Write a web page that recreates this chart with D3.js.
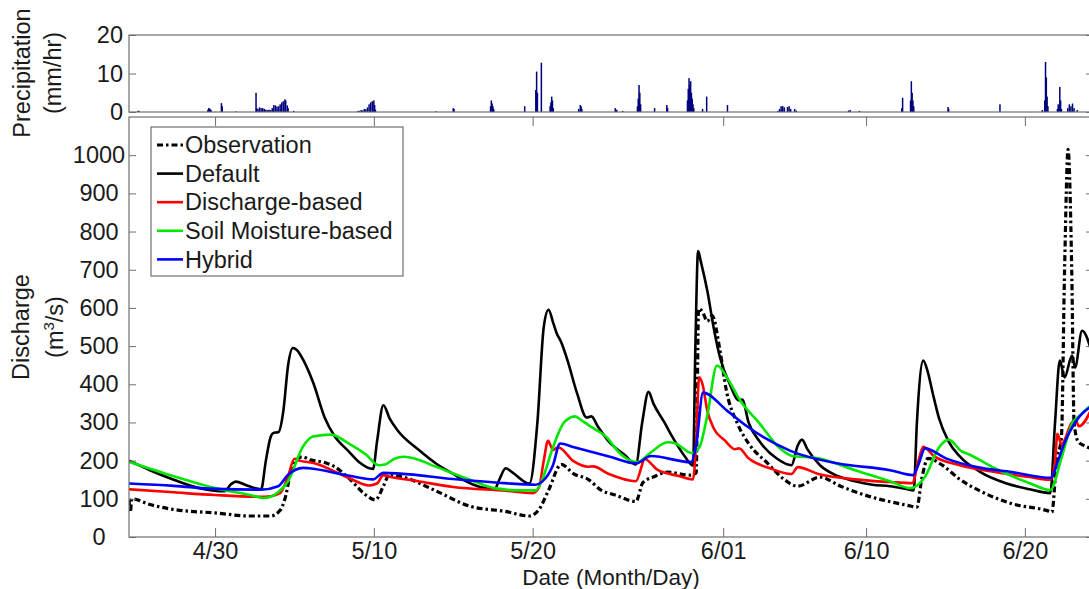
<!DOCTYPE html>
<html>
<head>
<meta charset="utf-8">
<script src="https://cdn.jsdelivr.net/npm/d3@7"></script>
<style>
  body { margin: 0; background: #fff; }
  svg { display: block; font-family: "Liberation Sans", Arial, Helvetica, sans-serif; }
</style>
</head>
<body>
<div id="chart"></div>
<script>
// day offsets are counted from 4/30 (negative = late April)
const observation = [[-5.42,98],[-5.33,65],[-5.25,100],[-4.1,85],[-2.6,72],[0,63],[2.2,55],[3.5,55],[4.1,70],[4.4,100],[4.85,185],[5.2,205],[5.5,210],[6.0,202],[6.9,195],[7.5,185],[8.4,155],[9.5,110],[10.1,97],[10.6,133],[11.0,165],[11.5,160],[12.0,155],[13.8,123],[16.1,80],[18.3,67],[19.8,55],[20.4,72],[21.0,122],[21.8,190],[22.6,165],[23.5,151],[24.3,123],[25.2,110],[26.5,93],[26.95,143],[27.6,157],[28.5,170],[29.9,162],[30.3,168],[30.45,598],[30.7,590],[31.0,565],[31.3,580],[31.8,488],[32.2,384],[32.9,297],[33.6,245],[34.8,193],[35.8,152],[36.7,133],[38.1,157],[39.4,133],[41.4,104],[43.6,83],[44.2,78],[44.5,151],[44.9,206],[45.8,188],[46.9,151],[48.2,120],[50.2,87],[52.4,69],[52.7,65],[53.0,200],[53.3,260],[53.5,700],[53.72,1015],[53.95,700],[54.1,300],[54.35,250],[54.7,240],[55.3,230]];

const defaultRun = [[-5.42,200],[-4.1,175],[-2.6,150],[-1,128],[0.6,120],[1.0,138],[1.3,145],[2.0,135],[2.9,125],[3.2,200],[3.5,262],[3.65,272],[4.0,275],[4.3,330],[4.6,450],[4.9,495],[5.15,490],[5.6,460],[6.2,402],[6.9,313],[7.5,266],[8.4,225],[9.1,195],[9.95,178],[10.2,250],[10.6,345],[11.0,310],[11.5,279],[12.8,229],[14.0,190],[15.0,165],[15.6,150],[16.75,130],[17.6,125],[17.9,150],[18.3,180],[18.7,170],[19.8,140],[20.3,300],[20.7,550],[21.0,595],[21.3,560],[21.5,535],[21.8,510],[22.2,462],[22.8,376],[23.4,313],[23.7,316],[24.1,290],[24.9,245],[25.8,215],[26.5,190],[26.9,300],[27.3,380],[27.6,350],[28.3,300],[28.8,262],[29.6,210],[30.1,187],[30.25,500],[30.42,749],[30.6,720],[31.0,645],[31.4,548],[31.8,470],[32.4,402],[33.0,358],[33.2,360],[33.6,300],[34.3,250],[35.4,205],[36.3,188],[36.7,240],[36.96,255],[37.3,230],[38.1,188],[39.2,160],[40.3,146],[41.4,137],[42.5,133],[43.6,125],[44.0,122],[44.2,300],[44.6,462],[44.9,430],[45.2,376],[45.6,310],[46.2,250],[46.9,211],[48.2,170],[49.8,141],[51.3,125],[52.6,115],[52.9,300],[53.2,462],[53.5,418],[53.97,475],[54.16,444],[54.6,540],[55.3,470]];

const dischargeBased = [[-5.42,125],[-2.6,117],[0,110],[3.1,105],[4.1,115],[4.6,160],[5.0,205],[5.3,200],[6.2,194],[8.4,155],[9.7,135],[10.2,140],[10.6,162],[11.0,158],[12.8,146],[15.0,131],[18.3,121],[20.0,115],[20.4,130],[20.7,200],[20.97,252],[21.28,228],[21.6,235],[22.6,198],[23.5,184],[23.8,185],[24.8,165],[26.5,146],[26.9,190],[27.02,205],[27.9,175],[29.2,160],[30.1,151],[30.3,250],[30.48,418],[30.7,400],[31.0,331],[31.4,285],[32.1,253],[32.75,230],[33.0,232],[33.6,206],[34.95,180],[36.3,165],[36.7,183],[38.0,165],[40.3,151],[42.5,144],[43.9,141],[44.3,200],[44.6,236],[45.3,211],[46.9,188],[49.1,170],[51.3,157],[52.6,150],[52.9,200],[53.05,270],[53.3,243],[53.97,300],[54.2,305],[54.4,290],[55.3,345]];

const soilMoistureBased = [[-5.42,197],[-2.6,159],[0,128],[2.2,110],[3.1,102],[3.97,117],[4.6,146],[5.54,237],[6.17,263],[7.3,268],[8.38,246],[9.5,216],[10.3,188],[10.7,190],[11.3,205],[11.9,210],[12.6,205],[13.85,185],[16.06,150],[17.57,128],[19.3,122],[20.2,122],[20.6,150],[21.28,235],[21.98,300],[22.67,316],[23.1,305],[23.74,287],[24.8,255],[25.06,240],[26.6,196],[27.4,220],[28.5,248],[29.0,245],[30.0,220],[30.5,235],[30.98,314],[31.61,449],[32.24,418],[33.06,358],[34.3,297],[35.5,235],[36.3,213],[38.0,206],[40.3,175],[42.5,146],[43.8,128],[44.7,157],[45.6,235],[46.2,255],[47.0,225],[47.5,216],[49.1,180],[51.3,141],[52.6,123],[53.3,206],[53.97,297],[54.5,320],[55.3,350]];

const hybrid = [[-5.42,140],[-2.6,134],[0,126],[2.9,124],[3.97,133],[4.6,163],[5.54,181],[5.9,180],[8.38,161],[9.95,151],[10.6,168],[11.65,166],[14.99,152],[18.26,141],[20.2,137],[20.6,145],[21.28,188],[21.73,245],[22.61,235],[24.81,211],[26.51,193],[27.46,212],[29.97,196],[30.3,240],[30.73,378],[32.24,331],[33.5,290],[34.51,262],[36.27,225],[39.17,193],[42.51,175],[43.95,162],[44.3,190],[44.71,232],[46.03,206],[47.98,183],[50.19,170],[52.64,155],[53.09,200],[53.53,250],[54.16,300],[55.3,345]];

// hourly precipitation (mm/hr)
const precipitation = [[-4.85,0.3],[-4.8,0.3],[-0.45,0.6],[-0.4,1.0],[-0.35,0.9],[-0.3,0.7],[-0.25,0.5],[0.4,2.3],[0.45,1.5],[1.3,0.15],
  [2.58,5.0],[2.62,1.0],[2.7,0.8],[2.8,1.2],[2.9,1.0],[3.0,1.0],[3.1,0.8],[3.2,0.6],[3.3,0.5],[3.4,0.6],[3.5,0.5],[3.6,1.0],[3.7,1.8],[3.8,1.7],[3.9,1.4],[4.0,1.5],[4.1,2.0],[4.2,2.5],[4.3,2.8],[4.4,3.3],[4.45,3.0],[4.55,1.7],[4.6,1.0],[4.95,0.3],
  [9.0,0.3],[9.1,0.3],[9.2,0.5],[9.3,0.4],[9.4,0.8],[9.5,0.7],[9.6,1.2],[9.7,2.0],[9.8,2.5],[9.9,2.8],[10.0,3.0],[10.05,1.8],[10.1,0.6],
  [13.9,0.2],[15.0,1.0],[15.05,0.8],[17.35,1.5],[17.4,3.0],[17.45,2.2],[17.5,1.5],[17.55,0.8],[19.5,1.5],
  [20.2,5.7],[20.25,10.5],[20.3,5.0],[20.55,12.8],[21.1,1.5],[21.15,2.5],[21.2,4.0],[21.25,3.0],[21.3,1.0],
  [22.9,0.8],[23.0,1.8],[23.05,1.5],[23.1,0.8],[25.2,1.0],[25.3,0.6],[25.67,0.3],
  [26.6,1.5],[26.65,3.5],[26.7,7.0],[26.75,5.0],[26.8,2.0],[27.68,1.0],[28.45,1.8],[28.5,1.0],
  [29.75,3.0],[29.8,6.0],[29.85,8.8],[29.9,7.0],[29.95,8.0],[30.0,5.0],[30.05,3.5],[30.1,2.0],[30.15,1.0],[30.7,0.8],[30.96,4.0],[32.27,1.8],
  [35.45,0.3],[35.55,0.8],[35.65,1.5],[35.75,1.5],[35.85,1.2],[36.05,1.3],[36.15,1.5],[36.25,0.8],[36.5,0.8],[36.6,0.4],
  [39.9,0.4],[40.0,0.5],[40.58,0.3],[43.25,1.0],[43.3,3.7],[43.8,3.0],[43.85,8.0],[43.9,5.0],[43.95,3.0],[44.0,1.5],
  [46.16,1.3],[46.2,0.8],[49.43,2.0],
  [52.1,0.5],[52.25,3.0],[52.3,13.0],[52.35,9.0],[52.4,4.0],[52.45,1.5],[53.05,0.8],[53.1,2.0],[53.2,6.5],[53.25,3.0],[53.3,0.8],
  [53.7,1.0],[53.8,2.0],[53.9,1.5],[54.0,2.2],[54.1,1.0],[54.3,0.5]];

const seriesNames = ["Observation", "Default", "Discharge-based", "Soil Moisture-based", "Hybrid"];
const seriesColors = ["#000000", "#000000", "#ff0000", "#00e600", "#0000ff"];
const dischargeTicks = d3.range(0, 1001, 100);
const precipTicks = [0, 10, 20];
const tickDays = [0, 10, 20, 32, 41, 51];

const W = 1089, H = 589;
const left = 129, right = 1093;
const mainTop = 117, mainBottom = 537;
const pTop = 35, pBottom = 112;
const FS = "23.5px";
const axisColor = "#6f6f6f";
const textColor = "#1a1a1a";

const base = new Date(2013, 3, 30);
const toDate = d => new Date(base.getTime() + d * 864e5);

const x = d3.scaleTime().domain([toDate(-5.42), toDate(55.29)]).range([left, right]);
const y = d3.scaleLinear().domain([0, 1100]).range([mainBottom, mainTop]);
const yP = d3.scaleLinear().domain([0, 20]).range([pBottom, pTop]);

const svg = d3.select("#chart").append("svg")
    .attr("width", W).attr("height", H)
    .style("background", "#fff");

const defs = svg.append("defs");
defs.append("clipPath").attr("id", "clipMain").append("rect")
    .attr("x", left).attr("y", mainTop).attr("width", right - left).attr("height", mainBottom - mainTop);
defs.append("clipPath").attr("id", "clipP").append("rect")
    .attr("x", left).attr("y", pTop).attr("width", right - left).attr("height", pBottom - pTop);

// ---- precipitation panel
const barW = Math.max(1.5, x(toDate(1 / 24)) - x(toDate(0)));
svg.append("g").attr("clip-path", "url(#clipP)")
  .selectAll("rect")
  .data(precipitation)
  .enter()
  .append("rect")
    .attr("x", d => x(toDate(d[0])) - barW / 2)
    .attr("y", d => yP(d[1]))
    .attr("width", barW)
    .attr("height", d => yP(0) - yP(d[1]))
    .attr("fill", "#00007f");

function styleAxis(g) {
  g.select(".domain").remove();
  g.selectAll("line").attr("stroke", axisColor);
  g.selectAll("text").attr("fill", textColor).style("font-size", FS);
}

svg.append("g")
    .attr("transform", "translate(" + left + ",0)")
    .call(d3.axisLeft(yP).tickValues(precipTicks).tickSize(-7).tickPadding(6))
    .call(styleAxis);
svg.append("g")
    .attr("transform", "translate(" + right + ",0)")
    .call(d3.axisRight(yP).tickValues(precipTicks).tickSize(-7).tickFormat(""))
    .call(styleAxis);
svg.append("rect")
    .attr("x", left).attr("y", pTop).attr("width", right - left).attr("height", pBottom - pTop)
    .attr("fill", "none").attr("stroke", axisColor).attr("stroke-width", 1.2);

// ---- main panel
const line = d3.line()
    .x(d => x(toDate(d[0])))
    .y(d => y(d[1]))
    .curve(d3.curveMonotoneX);

const allSeries = [observation, defaultRun, dischargeBased, soilMoistureBased, hybrid];
const gLines = svg.append("g").attr("clip-path", "url(#clipMain)");
allSeries.forEach((s, i) => {
  gLines.append("path")
    .datum(s)
    .attr("d", line)
    .attr("fill", "none")
    .attr("stroke", seriesColors[i])
    .attr("stroke-width", i === 0 ? 3.2 : 2.6)
    .attr("stroke-dasharray", i === 0 ? "6,3,2.5,3" : null)
    .attr("stroke-linejoin", "round");
});

const yAxisL = svg.append("g")
    .attr("transform", "translate(" + left + ",0)")
    .call(d3.axisLeft(y).tickValues(dischargeTicks).tickSize(-7).tickFormat(d3.format("d")))
    .call(styleAxis);
yAxisL.selectAll("text").attr("x", -30).attr("text-anchor", "middle");

svg.append("g")
    .attr("transform", "translate(" + right + ",0)")
    .call(d3.axisRight(y).tickValues(dischargeTicks).tickSize(-7).tickFormat(""))
    .call(styleAxis);

const tickDates = tickDays.map(toDate);
svg.append("g")
    .attr("transform", "translate(0," + mainBottom + ")")
    .call(d3.axisBottom(x).tickValues(tickDates).tickSize(-9).tickPadding(5).tickFormat(d3.timeFormat("%-m/%d")))
    .call(styleAxis);
svg.append("g")
    .attr("transform", "translate(0," + mainTop + ")")
    .call(d3.axisTop(x).tickValues(tickDates).tickSize(-9).tickFormat(""))
    .call(styleAxis);

svg.append("rect")
    .attr("x", left).attr("y", mainTop).attr("width", right - left).attr("height", mainBottom - mainTop)
    .attr("fill", "none").attr("stroke", axisColor).attr("stroke-width", 1.2);

// ---- axis titles
svg.append("text")
    .attr("x", 611).attr("y", 585)
    .attr("text-anchor", "middle").style("font-size", "22.5px").attr("fill", textColor)
    .text("Date (Month/Day)");

svg.append("text")
    .attr("transform", "translate(29,327) rotate(-90)")
    .attr("text-anchor", "middle").style("font-size", FS).attr("fill", textColor)
    .text("Discharge");
const unit = svg.append("text")
    .attr("transform", "translate(63,327) rotate(-90)")
    .attr("text-anchor", "middle").style("font-size", FS).attr("fill", textColor);
unit.append("tspan").text("(m");
unit.append("tspan").attr("dy", -9).style("font-size", "15px").text("3");
unit.append("tspan").attr("dy", 9).text("/s)");

svg.append("text")
    .attr("transform", "translate(30,73) rotate(-90)")
    .attr("text-anchor", "middle").style("font-size", FS).attr("fill", textColor)
    .text("Precipitation");
svg.append("text")
    .attr("transform", "translate(61,73) rotate(-90)")
    .attr("text-anchor", "middle").style("font-size", FS).attr("fill", textColor)
    .text("(mm/hr)");

// ---- legend
const legend = svg.append("g").attr("id", "legend");
legend.append("rect")
    .attr("x", 151).attr("y", 127).attr("width", 252).attr("height", 149)
    .attr("fill", "#fff").attr("stroke", axisColor).attr("stroke-width", 1.2);
const rows = legend.selectAll("g.row")
    .data(seriesNames)
    .enter()
    .append("g")
    .attr("class", "row")
    .attr("transform", (d, i) => "translate(0," + (145 + i * 28.6) + ")");
rows.append("line")
    .attr("x1", 157).attr("x2", 183).attr("y1", 0).attr("y2", 0)
    .attr("stroke", (d, i) => seriesColors[i])
    .attr("stroke-width", (d, i) => i === 0 ? 3 : 2.6)
    .attr("stroke-dasharray", (d, i) => i === 0 ? "6,3,2.5,3" : null);
rows.append("text")
    .attr("x", 185).attr("y", 0).attr("dy", "0.35em")
    .style("font-size", FS).attr("fill", textColor)
    .text(d => d);
</script>
</body>
</html>
